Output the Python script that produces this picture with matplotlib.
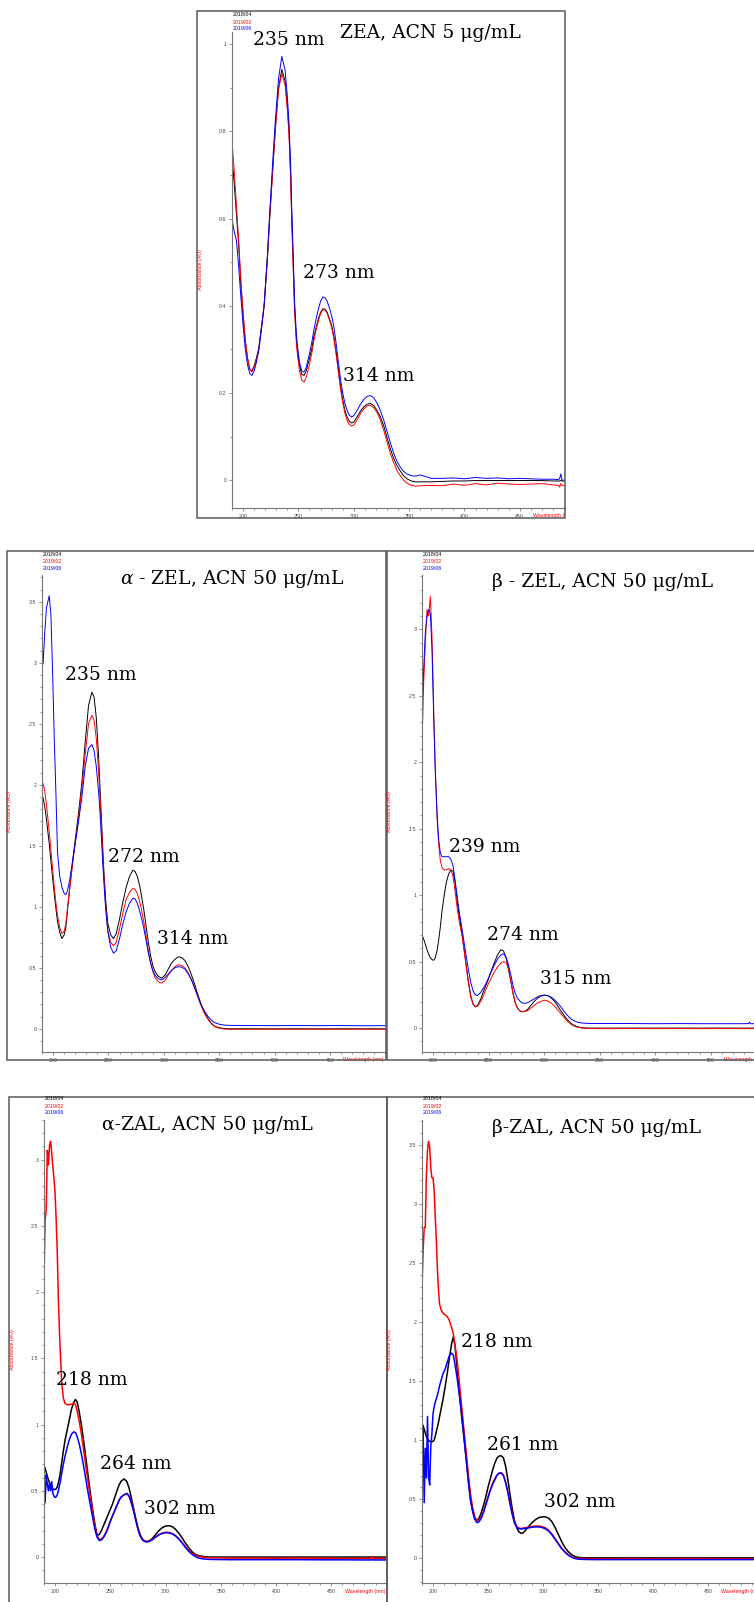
import matplotlib
matplotlib.use('Agg')
import matplotlib.pyplot as plt
from matplotlib.patches import Rectangle
from matplotlib.ticker import MultipleLocator, FixedLocator, FuncFormatter
from matplotlib.transforms import Bbox, TransformedBbox, blended_transform_factory

plt.rcParams['font.family'] = ['Liberation Sans', 'DejaVu Sans']
plt.rcParams['mathtext.fontset'] = 'dejavuserif'

dates = ['2018/04', '2019/02', '2019/06']
colors = ['black', 'red', 'blue']

# ---- ZEA, ACN 5 ug/mL ----
zea_wl = [
    190, 192, 194, 196, 198, 200, 202, 204, 206, 208,
    210, 212, 214, 217, 219, 222, 224, 227, 229, 232,
    235, 238, 240, 241.5, 243, 244, 245.5, 246.5, 248, 249,
    251, 253, 255, 257, 260, 262, 264, 266, 268, 270,
    272, 274, 276, 278, 280, 282, 284, 286, 288, 290,
    292, 294, 296, 298, 300, 303, 306, 309, 312, 315,
    318, 321, 324, 327, 330, 333, 336, 339, 342, 345,
    348, 352, 356, 360, 370, 380, 390, 400, 410, 420,
    430, 440, 450, 460, 470, 480, 485, 486, 487, 488,
    490]
zea_black = [
    0.74, 0.68, 0.61, 0.54, 0.45, 0.38, 0.32, 0.28, 0.255, 0.25,
    0.262, 0.28, 0.30, 0.36, 0.40, 0.51, 0.60, 0.72, 0.80, 0.90,
    0.942, 0.915, 0.86, 0.80, 0.70, 0.60, 0.48, 0.40, 0.33, 0.30,
    0.262, 0.243, 0.24, 0.25, 0.28, 0.30, 0.33, 0.35, 0.37, 0.385,
    0.393, 0.392, 0.385, 0.37, 0.355, 0.33, 0.295, 0.255, 0.215, 0.185,
    0.16, 0.145, 0.135, 0.131, 0.133, 0.145, 0.158, 0.168, 0.174, 0.176,
    0.171, 0.16, 0.145, 0.125, 0.098, 0.072, 0.05, 0.033, 0.021, 0.01,
    0.003, -0.002, -0.004, -0.004, -0.004, -0.003, -0.002, -0.002, -0.001, -0.001,
    -0.001, -0.001, -0.001, -0.001, -0.001, -0.002, -0.002, -0.002, -0.001, -0.002,
    -0.002]
zea_red = [
    0.78, 0.71, 0.63, 0.55, 0.46, 0.385, 0.32, 0.28, 0.255, 0.248,
    0.258, 0.275, 0.295, 0.355, 0.40, 0.51, 0.60, 0.72, 0.80, 0.895,
    0.933, 0.905, 0.85, 0.79, 0.69, 0.59, 0.47, 0.39, 0.32, 0.29,
    0.25, 0.23, 0.225, 0.235, 0.265, 0.29, 0.32, 0.345, 0.365, 0.382,
    0.391, 0.39, 0.382, 0.367, 0.35, 0.325, 0.29, 0.25, 0.21, 0.178,
    0.153, 0.137, 0.128, 0.124, 0.126, 0.138, 0.152, 0.163, 0.17, 0.172,
    0.166, 0.155, 0.138, 0.115, 0.088, 0.062, 0.04, 0.022, 0.01, 0.0,
    -0.007, -0.012, -0.014, -0.013, -0.012, -0.013, -0.009, -0.012, -0.008, -0.011,
    -0.007, -0.009, -0.01, -0.009, -0.008, -0.011, -0.012, -0.016, -0.008, -0.012,
    -0.012]
zea_blue = [
    0.60, 0.57, 0.55, 0.49, 0.42, 0.355, 0.30, 0.265, 0.245, 0.24,
    0.25, 0.27, 0.295, 0.355, 0.40, 0.515, 0.61, 0.74, 0.82, 0.92,
    0.972, 0.94, 0.88, 0.82, 0.72, 0.62, 0.50, 0.41, 0.34, 0.31,
    0.27, 0.25, 0.248, 0.258, 0.29, 0.315, 0.345, 0.37, 0.392, 0.41,
    0.42, 0.418, 0.41, 0.395, 0.377, 0.352, 0.315, 0.273, 0.232, 0.20,
    0.176, 0.16, 0.149, 0.145, 0.148, 0.16, 0.174, 0.185, 0.192, 0.194,
    0.189, 0.177, 0.16, 0.138, 0.112, 0.086, 0.062, 0.043, 0.03, 0.02,
    0.014, 0.01, 0.009, 0.012, 0.004, 0.004, 0.005, 0.003, 0.006, 0.004,
    0.005, 0.003, 0.004, 0.003, 0.002, 0.002, 0.001, 0.004, 0.014, 0.0,
    0.0]

# ---- alpha-ZEL, ACN 50 ug/mL ----
azel_wl = [
    190, 191, 192.5, 194, 196.5, 198, 199.5, 201, 202.5, 204,
    206, 208, 210, 211.5, 213, 215, 218, 220, 223, 226,
    229, 232, 235, 237, 239, 241, 242.5, 244, 245.5, 247.5,
    249.5, 252, 254.5, 257, 260, 263, 266, 269, 272, 274,
    276, 278, 280, 282, 284, 286, 288, 290, 292, 295,
    298, 301, 304, 307, 310, 313, 316, 319, 322, 325,
    328, 331, 334, 337, 340, 343, 346, 350, 355, 360,
    380, 400, 420, 440, 460, 480, 500]
azel_black = [
    1.92, 1.89, 1.82, 1.72, 1.52, 1.38, 1.24, 1.11, 0.99, 0.88,
    0.79, 0.74, 0.77, 0.83, 0.97, 1.15, 1.40, 1.55, 1.77, 2.02,
    2.35, 2.65, 2.76, 2.72, 2.55, 2.25, 1.95, 1.65, 1.35, 1.05,
    0.86, 0.77, 0.74, 0.78, 0.90, 1.04, 1.16, 1.25, 1.30, 1.29,
    1.25, 1.18, 1.08, 0.97, 0.84, 0.71, 0.60, 0.52, 0.47, 0.43,
    0.415, 0.44, 0.49, 0.54, 0.57, 0.59, 0.585, 0.56, 0.51, 0.44,
    0.36, 0.27, 0.19, 0.13, 0.08, 0.045, 0.02, 0.008, 0.002, 0.0,
    0.0, 0.0, 0.0, 0.0, 0.0, 0.0, 0.0]
azel_red = [
    2.02, 2.01, 1.95, 1.84, 1.62, 1.47, 1.32, 1.17, 1.04, 0.93,
    0.83, 0.78, 0.80, 0.86, 0.99, 1.15, 1.38, 1.52, 1.73, 1.97,
    2.25, 2.50, 2.57, 2.53, 2.38, 2.12, 1.88, 1.60, 1.30, 1.00,
    0.80, 0.71, 0.68, 0.71, 0.82, 0.95, 1.06, 1.12, 1.15, 1.145,
    1.11, 1.05, 0.97, 0.87, 0.76, 0.64, 0.54, 0.47, 0.42, 0.385,
    0.375, 0.395, 0.44, 0.48, 0.51, 0.525, 0.52, 0.50, 0.46, 0.40,
    0.33, 0.25, 0.18, 0.12, 0.075, 0.04, 0.018, 0.005, -0.002, -0.004,
    -0.004, -0.003, -0.004, -0.003, -0.004, -0.003, -0.004]
azel_blue = [
    3.22, 2.99, 3.25, 3.45, 3.55, 3.40, 2.95, 2.40, 1.95, 1.45,
    1.25, 1.16, 1.11, 1.10, 1.13, 1.22, 1.40, 1.52, 1.70, 1.90,
    2.15, 2.30, 2.33, 2.28, 2.15, 1.95, 1.75, 1.50, 1.25, 0.98,
    0.79, 0.67, 0.62, 0.64, 0.74, 0.86, 0.96, 1.03, 1.07, 1.065,
    1.03, 0.97, 0.90, 0.82, 0.72, 0.62, 0.54, 0.48, 0.44, 0.41,
    0.40, 0.42, 0.45, 0.48, 0.50, 0.51, 0.505, 0.49, 0.45, 0.40,
    0.33, 0.26, 0.19, 0.14, 0.10, 0.07, 0.05, 0.038, 0.03, 0.028,
    0.027, 0.026, 0.027, 0.026, 0.027, 0.025, 0.026]

# ---- beta-ZEL, ACN 50 ug/mL ----
bzel_wl = [
    190, 191.5, 193, 194.5, 196, 197.5, 199, 200.5, 202, 203.5,
    205, 206.5, 208, 210, 212, 214, 216, 218, 220, 222,
    224, 226, 228, 230, 232, 234, 236, 238, 240, 243,
    246, 249, 252, 255, 258, 261, 263.5, 266, 268, 270,
    272, 274, 276, 278, 280, 282, 285, 288, 291, 294,
    297, 300, 303, 306, 309, 312, 315, 318, 321, 324,
    327, 330, 334, 340, 350, 360, 380, 400, 420, 440,
    460, 480, 484, 485, 486, 489]
bzel_black = [
    0.70, 0.67, 0.63, 0.59, 0.555, 0.53, 0.515, 0.51, 0.53, 0.58,
    0.66, 0.76, 0.88, 1.00, 1.10, 1.16, 1.19, 1.18, 1.08, 0.93,
    0.82, 0.71, 0.59, 0.46, 0.34, 0.24, 0.18, 0.16, 0.17, 0.22,
    0.29, 0.35, 0.42, 0.49, 0.55, 0.59, 0.58, 0.52, 0.44, 0.35,
    0.26, 0.19, 0.15, 0.13, 0.123, 0.124, 0.14, 0.17, 0.20, 0.225,
    0.24, 0.247, 0.245, 0.23, 0.205, 0.17, 0.13, 0.095, 0.062, 0.037,
    0.02, 0.01, 0.003, 0.0, 0.0, 0.0, 0.0, 0.0, 0.0, 0.0,
    0.0, 0.0, 0.0, 0.0, 0.0, 0.0]
bzel_red = [
    2.12, 2.60, 2.90, 3.15, 3.10, 3.25, 2.95, 2.40, 1.95, 1.60,
    1.38, 1.26, 1.21, 1.19, 1.19, 1.20, 1.19, 1.14, 1.02, 0.88,
    0.78, 0.70, 0.58, 0.45, 0.33, 0.23, 0.18, 0.16, 0.165, 0.20,
    0.26, 0.32, 0.37, 0.42, 0.46, 0.49, 0.50, 0.49, 0.44, 0.36,
    0.26, 0.19, 0.15, 0.13, 0.125, 0.125, 0.13, 0.15, 0.17, 0.19,
    0.20, 0.21, 0.205, 0.19, 0.17, 0.14, 0.11, 0.08, 0.05, 0.03,
    0.015, 0.007, 0.0, -0.003, -0.004, -0.004, -0.003, -0.004, -0.003, -0.004,
    -0.003, -0.004, -0.004, -0.004, -0.004, -0.004]
bzel_blue = [
    2.39, 2.70, 2.98, 3.10, 3.15, 3.12, 2.85, 2.35, 1.92, 1.62,
    1.42, 1.32, 1.29, 1.29, 1.29, 1.29, 1.27, 1.22, 1.10, 0.97,
    0.85, 0.75, 0.64, 0.53, 0.43, 0.34, 0.28, 0.25, 0.245, 0.27,
    0.31, 0.36, 0.42, 0.47, 0.52, 0.55, 0.56, 0.53, 0.47, 0.40,
    0.32, 0.26, 0.225, 0.205, 0.19, 0.186, 0.19, 0.205, 0.22, 0.235,
    0.245, 0.248, 0.245, 0.235, 0.215, 0.19, 0.16, 0.125, 0.095, 0.07,
    0.055, 0.045, 0.038, 0.035, 0.034, 0.035, 0.034, 0.033, 0.034, 0.033,
    0.033, 0.033, 0.034, 0.045, 0.032, 0.033]

# ---- alpha-ZAL, ACN 50 ug/mL ----
azal_wl = [
    190, 191, 192, 193, 194, 195, 196, 197, 198, 199,
    200, 201, 202, 203, 204, 205, 206, 207.5, 209, 211,
    213, 215, 217, 218.5, 220, 222, 224, 226, 228, 230,
    232, 234, 236, 238, 240, 242, 244, 246, 248, 250,
    252, 254, 256, 258, 260, 262.5, 265, 267, 269, 271,
    273, 275, 277, 279, 281, 283, 285, 288, 291, 294,
    297, 300, 303, 306, 309, 312, 315, 318, 321, 324,
    327, 330, 335, 340, 350, 360, 380, 400, 420, 440,
    460, 480, 486, 487, 488, 500]
azal_black = [
    0.69, 0.67, 0.64, 0.61, 0.585, 0.56, 0.54, 0.525, 0.515, 0.51,
    0.51, 0.515, 0.53, 0.56, 0.60, 0.65, 0.71, 0.80, 0.88, 0.96,
    1.04, 1.12, 1.17, 1.19, 1.17, 1.09, 0.99, 0.87, 0.74, 0.61,
    0.48, 0.36, 0.25, 0.165, 0.17, 0.20, 0.24, 0.28, 0.32, 0.36,
    0.40, 0.45, 0.50, 0.545, 0.575, 0.59, 0.57, 0.52, 0.45, 0.37,
    0.29, 0.22, 0.17, 0.135, 0.12, 0.115, 0.12, 0.14, 0.17, 0.20,
    0.222, 0.234, 0.237, 0.23, 0.21, 0.18, 0.145, 0.105, 0.07, 0.04,
    0.02, 0.01, 0.003, 0.0, 0.0, 0.0, 0.0, 0.0, 0.0, 0.0,
    0.0, 0.0, 0.0, 0.0, 0.0, 0.0]
azal_red = [
    2.10, 2.55, 2.62, 3.07, 2.96, 3.11, 3.14, 3.05, 2.95, 2.86,
    2.75, 2.55, 2.30, 1.95, 1.70, 1.50, 1.32, 1.20, 1.16, 1.15,
    1.15, 1.155, 1.16, 1.15, 1.10, 1.02, 0.92, 0.80, 0.68, 0.56,
    0.45, 0.34, 0.24, 0.16, 0.135, 0.135, 0.155, 0.185, 0.225, 0.27,
    0.31, 0.35, 0.39, 0.43, 0.455, 0.47, 0.48, 0.46, 0.415, 0.355,
    0.285, 0.215, 0.165, 0.135, 0.122, 0.118, 0.12, 0.133, 0.152, 0.17,
    0.181, 0.187, 0.186, 0.178, 0.163, 0.14, 0.11, 0.078, 0.05, 0.028,
    0.013, 0.004, -0.003, -0.006, -0.007, -0.008, -0.008, -0.009, -0.008, -0.009,
    -0.01, -0.01, -0.01, 0.005, -0.01, -0.011]
azal_blue = [
    0.51, 0.41, 0.62, 0.55, 0.50, 0.56, 0.50, 0.57, 0.48, 0.46,
    0.45, 0.455, 0.47, 0.50, 0.54, 0.58, 0.63, 0.70, 0.76, 0.83,
    0.89, 0.93, 0.945, 0.94, 0.91, 0.85, 0.77, 0.68, 0.58, 0.48,
    0.39, 0.30, 0.21, 0.15, 0.125, 0.13, 0.15, 0.18, 0.22, 0.27,
    0.31, 0.35, 0.39, 0.43, 0.455, 0.47, 0.48, 0.46, 0.41, 0.35,
    0.28, 0.21, 0.16, 0.13, 0.118, 0.115, 0.118, 0.13, 0.15, 0.167,
    0.178, 0.184, 0.183, 0.175, 0.16, 0.135, 0.105, 0.072, 0.043, 0.02,
    0.003, -0.008, -0.015, -0.018, -0.019, -0.02, -0.02, -0.02, -0.02, -0.021,
    -0.021, -0.022, -0.022, -0.02, -0.022, -0.022]

# ---- beta-ZAL, ACN 50 ug/mL ----
bzal_wl = [
    190, 191, 192, 193, 194, 195, 196, 197, 198, 199,
    200, 201, 202, 203, 204, 205, 206, 207.5, 209, 211,
    213, 215, 217, 218.5, 220, 222, 224, 226, 228, 230,
    232, 234, 236, 238, 240, 242, 244, 246, 248, 250,
    252, 254, 256, 258, 260, 262, 264, 266, 268, 270,
    272, 274, 276, 278, 280, 282, 284, 287, 290, 293,
    296, 299, 302, 305, 308, 311, 314, 317, 320, 323,
    326, 329, 332, 336, 340, 350, 360, 380, 400, 420,
    440, 460, 480, 491]
bzal_black = [
    1.14, 1.12, 1.09, 1.06, 1.03, 1.01, 0.995, 0.99, 0.986, 0.986,
    0.99, 1.00, 1.03, 1.07, 1.11, 1.15, 1.20, 1.27, 1.34, 1.45,
    1.57, 1.70, 1.82, 1.875, 1.80, 1.60, 1.40, 1.20, 1.03, 0.86,
    0.68, 0.50, 0.40, 0.33, 0.32, 0.34, 0.39, 0.45, 0.52, 0.60,
    0.67, 0.74, 0.80, 0.845, 0.865, 0.867, 0.85, 0.78, 0.67, 0.54,
    0.42, 0.32, 0.26, 0.225, 0.21, 0.215, 0.235, 0.27, 0.30, 0.325,
    0.343, 0.35, 0.35, 0.34, 0.31, 0.26, 0.20, 0.14, 0.09, 0.055,
    0.03, 0.015, 0.007, 0.004, 0.003, 0.003, 0.003, 0.003, 0.003, 0.003,
    0.003, 0.003, 0.003, 0.003]
bzal_red = [
    2.29, 2.60, 2.80, 2.80, 3.25, 3.45, 3.53, 3.48, 3.30, 3.22,
    3.22, 3.12, 2.90, 2.70, 2.45, 2.27, 2.15, 2.10, 2.075, 2.06,
    2.045, 2.01, 1.95, 1.90, 1.80, 1.67, 1.48, 1.29, 1.10, 0.91,
    0.72, 0.55, 0.43, 0.35, 0.32, 0.32, 0.35, 0.40, 0.46, 0.52,
    0.58, 0.63, 0.67, 0.70, 0.72, 0.725, 0.705, 0.645, 0.565, 0.47,
    0.38, 0.31, 0.27, 0.255, 0.252, 0.255, 0.258, 0.263, 0.268, 0.272,
    0.273, 0.268, 0.258, 0.238, 0.206, 0.166, 0.125, 0.085, 0.054, 0.03,
    0.012, 0.002, -0.002, -0.003, -0.004, -0.004, -0.004, -0.003, -0.004, -0.003,
    -0.003, -0.004, -0.004, -0.004]
bzal_blue = [
    1.02, 1.10, 0.47, 0.93, 0.68, 1.20, 0.68, 0.62, 0.95, 1.05,
    1.22, 1.28, 1.32, 1.35, 1.38, 1.42, 1.46, 1.51, 1.56, 1.60,
    1.66, 1.72, 1.735, 1.72, 1.64, 1.52, 1.38, 1.23, 1.05, 0.85,
    0.66, 0.50, 0.40, 0.33, 0.30, 0.31, 0.34, 0.39, 0.45, 0.51,
    0.57, 0.62, 0.66, 0.70, 0.72, 0.72, 0.70, 0.64, 0.56, 0.46,
    0.37, 0.30, 0.265, 0.25, 0.248, 0.25, 0.253, 0.257, 0.262, 0.265,
    0.265, 0.26, 0.25, 0.23, 0.20, 0.16, 0.12, 0.08, 0.05, 0.025,
    0.008, -0.003, -0.008, -0.01, -0.011, -0.012, -0.012, -0.012, -0.012, -0.012,
    -0.012, -0.012, -0.012, -0.012]

W, H = 754, 1602
fig = plt.figure(figsize=(W / 100, H / 100), dpi=100)
SERIF = ['DejaVu Serif', 'Liberation Serif']


def frame(x0, y0, x1, y1):
    fig.patches.append(Rectangle((x0 / W, 1 - y1 / H), (x1 - x0) / W, (y1 - y0) / H,
                                 transform=fig.transFigure, fill=False,
                                 ec='#5a5a5a', lw=1.1))


def panel(box, wl, curves, xlim, ylim, ystep, lw, legend_xy, ylab_xy, notes):
    l, t, r, b = box
    ax = fig.add_axes([l / W, 1 - b / H, (r - l) / W, (b - t) / H])
    for vals, c in zip(curves, colors):
        ax.plot(wl, vals, color=c, lw=lw)
    ax.set_xlim(*xlim)
    ax.set_ylim(*ylim)
    for s in ['top', 'right']:
        ax.spines[s].set_visible(False)
    for s in ['left', 'bottom']:
        ax.spines[s].set_color('#777777')
        ax.spines[s].set_linewidth(0.8)
    ax.xaxis.set_major_locator(FixedLocator([200, 250, 300, 350, 400, 450]))
    ax.xaxis.set_minor_locator(MultipleLocator(10))
    ax.yaxis.set_major_locator(MultipleLocator(ystep))
    ax.yaxis.set_minor_locator(MultipleLocator(0.1))
    ax.yaxis.set_major_formatter(FuncFormatter(lambda v, p: f'{v:g}'))
    ax.tick_params(which='major', length=2.5, width=0.5, colors='#666666',
                   labelsize=3.8, pad=1.5, labelcolor='#444444')
    ax.tick_params(which='minor', length=1.5, width=0.5, colors='#666666')

    # red axis captions of the instrument software
    tr = blended_transform_factory(ax.transData, ax.transAxes)
    wt = ax.text(462, -8 / (b - t), 'Wavelength (nm)', transform=tr, color='red',
                 fontsize=3.8, va='center', ha='left')
    wt.set_clip_path(None)
    wt.set_clip_box(TransformedBbox(Bbox([[0, 0], [r / W, 1]]), fig.transFigure))
    wt.set_clip_on(True)
    fig.text(ylab_xy[0] / W, 1 - ylab_xy[1] / H, 'Absorbance (AU)', color='red',
             rotation=90, fontsize=3.8, ha='center', va='center')

    for i, (d, c) in enumerate(zip(dates, colors)):
        fig.text(legend_xy[0] / W, 1 - (legend_xy[1] + 7 * i) / H, d, color=c,
                 fontsize=3.8, ha='left', va='center')

    for x, y, s in notes:
        ax.text(x, y, s, fontsize=13.5, family=SERIF, ha='left', va='center',
                clip_on=False)
    return ax


frame(197, 11, 565, 518)
frame(7, 551, 386, 1060)
frame(387, 551, 770, 1060)
frame(9, 1097, 387, 1630)
frame(387, 1097, 770, 1630)

panel((232, 32, 565, 508), zea_wl, [zea_black, zea_red, zea_blue],
      (190, 490.8), (-0.064, 1.028), 0.2, 0.7, (233, 15), (200, 270),
      [(287.6, 1.025, 'ZEA, ACN 5 μg/mL'), (209, 1.009, '235 nm'),
       (254, 0.475, '273 nm'), (290, 0.239, '314 nm')])

panel((42, 575, 386, 1052), azel_wl, [azel_black, azel_red, azel_blue],
      (190, 500.5), (-0.19, 3.72), 0.5, 0.7, (43, 554), (10, 812),
      [(260.4, 3.69, r'$\alpha$ - ZEL, ACN 50 μg/mL'), (210.8, 2.90, '235 nm'),
       (249.6, 1.41, '272 nm'), (293.8, 0.74, '314 nm')])

panel((422, 575, 754, 1052), bzel_wl, [bzel_black, bzel_red, bzel_blue],
      (190, 489), (-0.18, 3.41), 0.5, 0.7, (423, 554), (390, 812),
      [(252.8, 3.36, 'β - ZEL, ACN 50 μg/mL'), (214.3, 1.36, '239 nm'),
       (248.8, 0.70, '274 nm'), (296.3, 0.366, '315 nm')])

panel((44, 1120, 387, 1583), azal_wl, [azal_black, azal_red, azal_blue],
      (190, 500.4), (-0.196, 3.30), 0.5, 1.1, (45, 1099), (13, 1350),
      [(242.2, 3.26, 'α-ZAL, ACN 50 μg/mL'), (200.9, 1.336, '218 nm'),
       (240.7, 0.70, '264 nm'), (280.5, 0.362, '302 nm')])

panel((422, 1120, 754, 1583), bzal_wl, [bzal_black, bzal_red, bzal_blue],
      (190, 491.8), (-0.21, 3.71), 0.5, 1.1, (423, 1099), (390, 1350),
      [(253.4, 3.64, 'β-ZAL, ACN 50 μg/mL'), (225.5, 1.83, '218 nm'),
       (248.8, 0.958, '261 nm'), (301.2, 0.477, '302 nm')])

fig.savefig('out.png', dpi=100)
